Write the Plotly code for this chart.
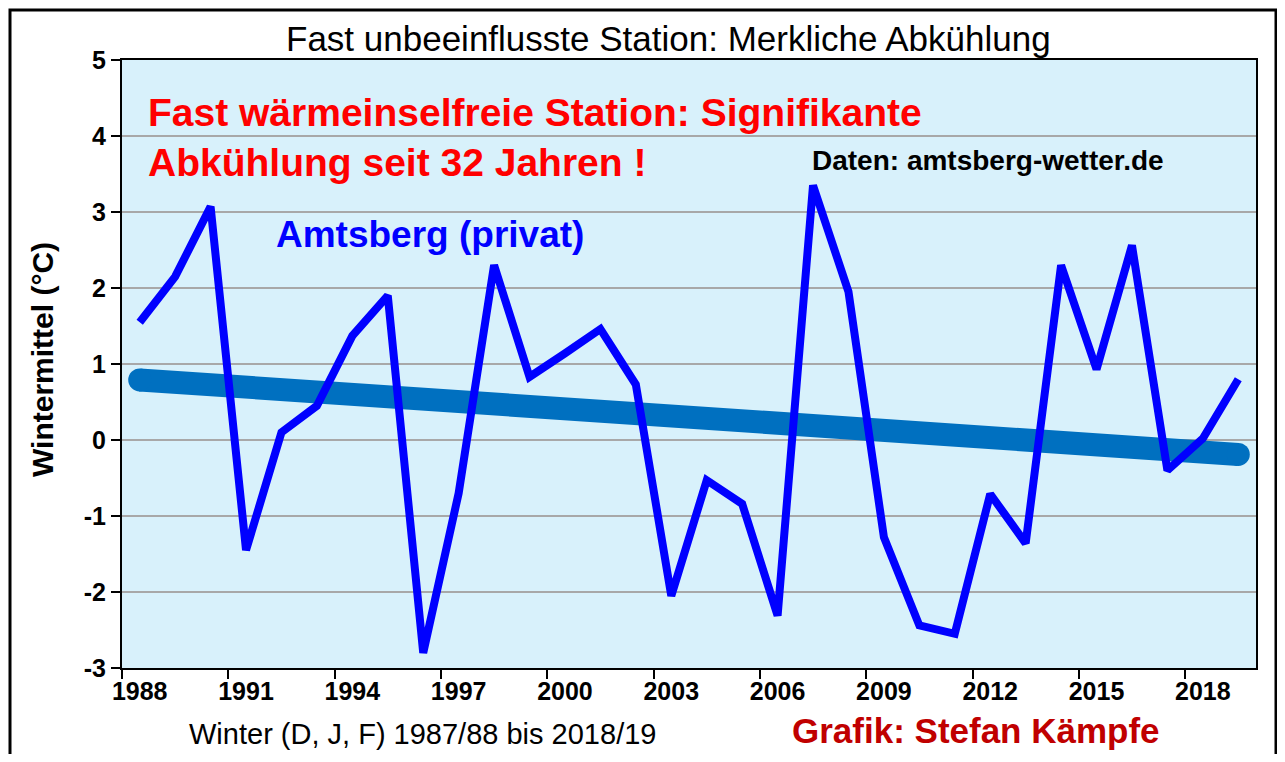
import plotly.graph_objects as go

# ============================
# DADOS
# ============================

years = list(range(1988, 2020))
winter_mean = [
    1.55, 2.15, 3.07, -1.45, 0.10, 0.45, 1.37, 1.90, -2.80, -0.70,
    2.30, 0.83, 1.14, 1.46, 0.73, -2.05, -0.53, -0.84, -2.31, 3.35,
    1.95, -1.28, -2.44, -2.55, -0.71, -1.36, 2.30, 0.93, 2.56, -0.40,
    0.02, 0.80,
]

trend_years = [1988, 2019]
trend_values = [0.79, -0.19]

tick_years = [1988, 1991, 1994, 1997, 2000, 2003, 2006, 2009, 2012, 2015, 2018]
tick_bounds = [1987.5, 1990.5, 1993.5, 1996.5, 1999.5, 2002.5, 2005.5, 2008.5,
               2011.5, 2014.5, 2017.5]
y_ticks = [-3, -2, -1, 0, 1, 2, 3, 4, 5]

FONT = "Liberation Sans"

fig = go.Figure()

# Trendlinie
fig.add_trace(go.Scatter(
    x=trend_years,
    y=trend_values,
    mode="lines+markers",
    line=dict(color="#0070C0", width=23),
    marker=dict(color="#0070C0", size=23),
    hoverinfo="skip",
    showlegend=False,
))

# Wintermittel
fig.add_trace(go.Scatter(
    x=years,
    y=winter_mean,
    mode="lines",
    line=dict(color="#0000FF", width=8),
    name="Amtsberg (privat)",
    showlegend=False,
))

tickfont = dict(family=FONT, size=25, color="black", weight="bold")

fig.update_xaxes(
    range=[1987.5, 2019.5],
    tickvals=tick_years,
    ticktext=[str(y) for y in tick_years],
    ticks="",
    tickfont=tickfont,
    showgrid=False,
    zeroline=False,
    showline=True,
    linecolor="black",
    linewidth=2,
    mirror=True,
    minor=dict(tickvals=tick_bounds, ticks="outside", ticklen=9,
               tickwidth=2, tickcolor="black", showgrid=False),
)

fig.update_yaxes(
    range=[-3, 5],
    tickvals=y_ticks,
    ticktext=[str(v) for v in y_ticks],
    ticks="outside",
    ticklen=9,
    tickwidth=2,
    tickcolor="black",
    tickfont=tickfont,
    showgrid=True,
    gridcolor="#A8A8A8",
    gridwidth=2,
    zeroline=False,
    showline=True,
    linecolor="black",
    linewidth=2,
    mirror=True,
)

# ============================
# TEXTE (Positionen in Seitenpixeln)
# ============================

def px_x(px):
    return (px - 122) / 1134


def px_y(py):
    return (668 - py) / 608


texts = [
    dict(text="Fast unbeeinflusste Station: Merkliche Abkühlung", x=px_x(668), y=px_y(38),
         xanchor="center", yanchor="middle", font=dict(family=FONT, size=35, color="black")),
    dict(text="Fast wärmeinselfreie Station: Signifikante", x=px_x(146), y=px_y(112),
         xanchor="left", yanchor="middle", font=dict(family=FONT, size=39, color="#FF0000", weight="bold")),
    dict(text="Abkühlung seit 32 Jahren !", x=px_x(146), y=px_y(162),
         xanchor="left", yanchor="middle", font=dict(family=FONT, size=39, color="#FF0000", weight="bold")),
    dict(text="Daten: amtsberg-wetter.de", x=px_x(810), y=px_y(160),
         xanchor="left", yanchor="middle", font=dict(family=FONT, size=28, color="black", weight="bold")),
    dict(text="Amtsberg (privat)", x=px_x(274), y=px_y(235),
         xanchor="left", yanchor="middle", font=dict(family=FONT, size=37, color="#0000FF", weight="bold")),
    dict(text="Winter (D, J, F) 1987/88 bis 2018/19", x=px_x(422), y=px_y(752),
         xanchor="center", yanchor="bottom", font=dict(family=FONT, size=29, color="black")),
    dict(text="Grafik: Stefan Kämpfe", x=px_x(976), y=px_y(752),
         xanchor="center", yanchor="bottom", font=dict(family=FONT, size=35, color="#C00000", weight="bold")),
    dict(text="Wintermittel (°C)", x=px_x(42), y=px_y(360), textangle=-90,
         xanchor="center", yanchor="middle", font=dict(family=FONT, size=30, color="black", weight="bold")),
]

for t in texts:
    fig.add_annotation(xref="paper", yref="paper", showarrow=False, **t)

# Rahmen um die ganze Grafik
fig.add_shape(type="rect", xref="paper", yref="paper",
              x0=px_x(10), x1=px_x(1276), y0=px_y(800), y1=px_y(10),
              line=dict(color="black", width=3), layer="below")

# die Seite hat 8 px Rand -> Figur etwas kleiner
fig.update_layout(
    width=1269,
    height=746,
    margin=dict(l=114, r=21, t=52, b=86),
    plot_bgcolor="#D8F1FB",
    paper_bgcolor="white",
    showlegend=False,
)

fig.write_html("out.html")
